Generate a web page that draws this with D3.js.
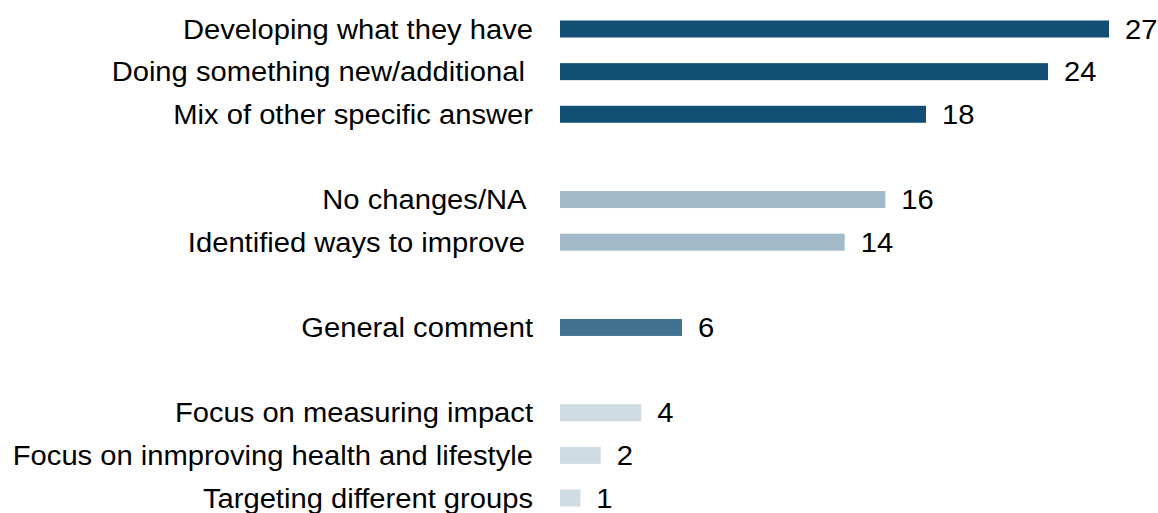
<!DOCTYPE html>
<html>
<head>
<meta charset="utf-8">
<script src="https://cdn.jsdelivr.net/npm/d3@7"></script>
<style>
  html, body { margin: 0; padding: 0; background: #fff; }
  svg { display: block; }
  text { font-family: "Liberation Sans", Arial, sans-serif; white-space: pre; }
</style>
</head>
<body>
<svg id="chart" width="1158" height="513"></svg>
<script>
const categories = [
  "Developing what they have",
  "Doing something new/additional ",
  "Mix of other specific answer",
  "No changes/NA ",
  "Identified ways to improve ",
  "General comment",
  "Focus on measuring impact",
  "Focus on inmproving health and lifestyle",
  "Targeting different groups"
];
const values = [27, 24, 18, 16, 14, 6, 4, 2, 1];
// Answer group of each category; an empty row separates consecutive groups
const groups = [0, 0, 0, 1, 1, 2, 3, 3, 3];
const groupColors = ["#134f75", "#a2b9c9", "#40718f", "#cfdce4"];

const svg = d3.select("#chart");
const width = 1158, height = 513;
const margin = { left: 560, right: 49, top: 29, bottom: 15 };

const rows = categories.map((c, i) => ({
  name: c, value: values[i], group: groups[i], slot: i + groups[i]
}));
const nSlots = d3.max(rows, d => d.slot) + 1;

const x = d3.scaleLinear()
  .domain([0, 27])
  .range([margin.left, 1109]);

const y = d3.scalePoint()
  .domain(d3.range(nSlots))
  .range([margin.top, height - margin.bottom]);

const barH = 17;
const fontSize = 27;
const stretch = 1.08; // slightly wide lettering

const g = svg.append("g");

g.selectAll("rect.bar")
  .data(rows)
  .join("rect")
  .attr("class", "bar")
  .attr("x", x(0))
  .attr("y", d => y(d.slot) - barH / 2)
  .attr("width", d => x(d.value) - x(0))
  .attr("height", barH)
  .attr("fill", d => groupColors[d.group]);

g.selectAll("text.cat")
  .data(rows)
  .join("text")
  .attr("class", "cat")
  .attr("transform", d => `translate(${x(0) - 27},${y(d.slot)}) scale(${stretch},1)`)
  .attr("dy", "0.36em")
  .attr("text-anchor", "end")
  .attr("font-size", fontSize)
  .attr("fill", "#000")
  .text(d => d.name);

g.selectAll("text.val")
  .data(rows)
  .join("text")
  .attr("class", "val")
  .attr("transform", d => `translate(${x(d.value) + 16},${y(d.slot)}) scale(${stretch},1)`)
  .attr("dy", "0.36em")
  .attr("font-size", fontSize)
  .attr("fill", "#000")
  .text(d => d.value);
</script>
</body>
</html>
